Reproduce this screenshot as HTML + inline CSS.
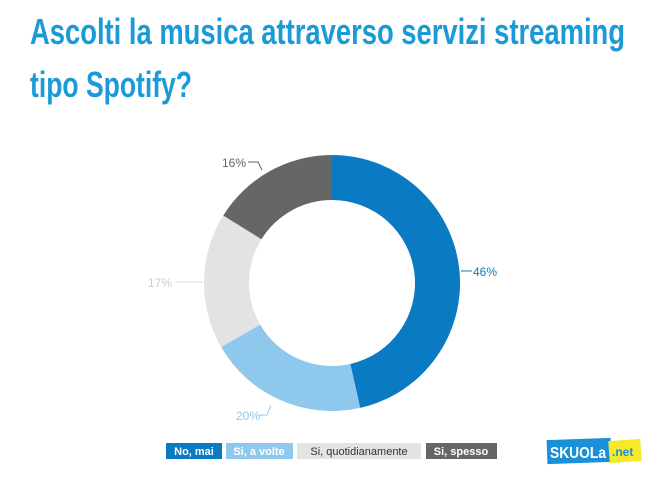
<!DOCTYPE html>
<html><head><meta charset="utf-8"><style>
body{margin:0;background:#fff;width:660px;height:481px;overflow:hidden}
</style></head><body>
<svg width="660" height="481" xmlns="http://www.w3.org/2000/svg" font-family="Liberation Sans, sans-serif">
<text x="30" y="44" font-size="36" font-weight="bold" fill="#1b9ad8" textLength="595" lengthAdjust="spacingAndGlyphs">Ascolti la musica attraverso servizi streaming</text>
<text x="30" y="97" font-size="36" font-weight="bold" fill="#1b9ad8" textLength="162" lengthAdjust="spacingAndGlyphs">tipo Spotify?</text>
<g id="donut"></g>
<text x="473" y="276" font-size="12" fill="#0a7bc2">46%</text>
<line x1="461" y1="271" x2="472" y2="271" stroke="#0a7bc2"/>
<text x="236" y="420" font-size="12" fill="#8ec8ec">20%</text>
<path d="M259 415 h8 l4 -10" stroke="#8ec8ec" fill="none"/>
<text x="148" y="287" font-size="12" fill="#ccc">17%</text>
<line x1="175" y1="282" x2="203" y2="282" stroke="#ddd"/>
<text x="222" y="167" font-size="12" fill="#666">16%</text>
<path d="M248 162 h10 l4 8" stroke="#666" fill="none"/>
<rect x="166" y="443" width="56" height="16" fill="#0a7bc2"/><text x="194" y="455" font-size="11" font-weight="bold" fill="#fff" text-anchor="middle">No, mai</text>
<rect x="226" y="443" width="67" height="16" fill="#8ec8ec"/><text x="259" y="455" font-size="11" font-weight="bold" fill="#fff" text-anchor="middle">Si, a volte</text>
<rect x="297" y="443" width="124" height="16" fill="#e3e3e3"/><text x="359" y="455" font-size="11" fill="#333" text-anchor="middle">Si, quotidianamente</text>
<rect x="426" y="443" width="71" height="16" fill="#666"/><text x="461" y="455" font-size="11" font-weight="bold" fill="#fff" text-anchor="middle">Si, spesso</text>
<rect x="547" y="439" width="64" height="24" fill="#1b8fd8" transform="rotate(-2 579 451)"/>
<text x="550" y="458" font-size="16" font-weight="bold" fill="#fff" textLength="56" lengthAdjust="spacingAndGlyphs">SKUOLa</text>
<rect x="609" y="440" width="32" height="22" fill="#f5e92a" transform="rotate(-4 625 451)"/>
<text x="612" y="456" font-size="12" font-weight="bold" fill="#1b8fd8">.net</text>
</svg>
<script>
var cx=332,cy=283,R=128,r=83,vals=[46,20,17,16],cols=["#0a7bc2","#8ec8ec","#e3e3e3","#666666"];
var tot=99,a=-Math.PI/2,g=document.getElementById("donut"),ns="http://www.w3.org/2000/svg";
vals.forEach(function(v,i){var b=a+v/tot*2*Math.PI,l=(b-a)>Math.PI?1:0;
function p(rr,t){return (cx+rr*Math.cos(t)).toFixed(2)+" "+(cy+rr*Math.sin(t)).toFixed(2)}
var d="M"+p(R,a)+"A"+R+" "+R+" 0 "+l+" 1 "+p(R,b)+"L"+p(r,b)+"A"+r+" "+r+" 0 "+l+" 0 "+p(r,a)+"Z";
var e=document.createElementNS(ns,"path");e.setAttribute("d",d);e.setAttribute("fill",cols[i]);g.appendChild(e);a=b;});
</script>
</body></html>
